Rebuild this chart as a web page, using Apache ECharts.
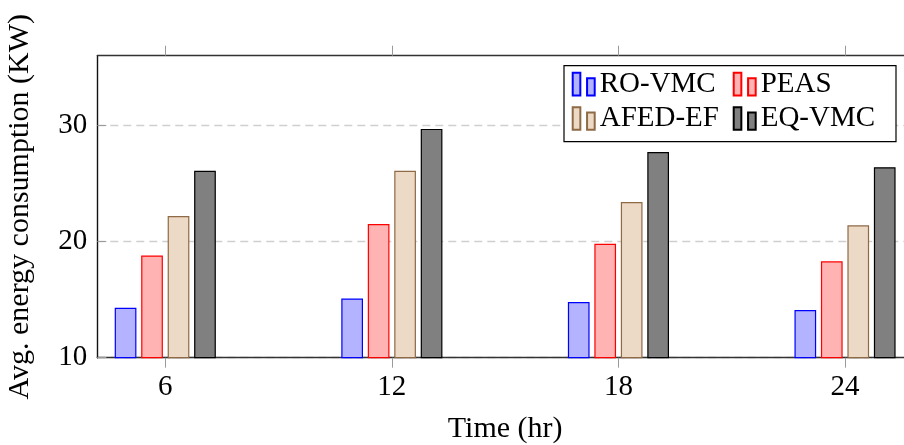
<!DOCTYPE html>
<html>
<head>
<meta charset="utf-8">
<script src="https://cdn.jsdelivr.net/npm/echarts@6/dist/echarts.min.js"></script>
<style>
html,body{margin:0;padding:0;background:#fff;}
#chart{width:904px;height:445px;}
</style>
</head>
<body>
<div id="chart"></div>
<script>
// ---- data ----
const categories = [6, 12, 18, 24];
const tickLabels = ['6', '12', '18', '24'];
const yTicks = [10, 20, 30];
const seriesNames = ['RO-VMC', 'PEAS', 'AFED-EF', 'EQ-VMC'];
const roVmc = [14.3, 15.1, 14.8, 14.1];
const peas = [18.8, 21.5, 19.8, 18.3];
const afedEf = [22.2, 26.1, 23.4, 21.4];
const eqVmc = [26.1, 29.7, 27.7, 26.4];
const xTitle = 'Time (hr)';
const yTitle = 'Avg. energy consumption (KW)';

// ---- styling ----
const FONT = 'Liberation Serif';
const FS = 29;
const styles = [
  { fill: '#b3b3ff', stroke: '#0000ff' },
  { fill: '#ffb3b3', stroke: '#ff0000' },
  { fill: '#ecd9c6', stroke: '#8f6a45' },
  { fill: '#808080', stroke: '#000000' }
];
const allValues = [roVmc, peas, afedEf, eqVmc];
const legendIcon = 'path://M0,0h7.6v22.6h-7.6z M14.3,5.3h7.6v17.3h-7.6z';

const chart = echarts.init(document.getElementById('chart'), null, { renderer: 'canvas' });

const series = seriesNames.map((name, i) => ({
  name: name,
  type: 'bar',
  xAxisIndex: 0,
  yAxisIndex: 0,
  barWidth: 21.7,
  barGap: '22%',
  data: categories.map((c, j) => [c, allValues[i][j]]),
  itemStyle: { color: styles[i].fill, borderColor: styles[i].stroke, borderWidth: 1.2 },
  emphasis: { disabled: true },
  animation: false
}));

const tickColor = '#9a9a9a';

const option = {
  animation: false,
  grid: { left: 97.3, right: -9, top: 55.7, bottom: 445 - 357.7, outerBoundsMode: 'none', containLabel: false },
  legend: {
    data: seriesNames.map(n => ({ name: n, icon: legendIcon })),
    orient: 'horizontal',
    left: 564,
    top: 65.7,
    width: 320,
    itemWidth: 22,
    itemHeight: 23,
    itemGap: 5.3,
    padding: [4, 7.6, 8.7, 7.7],
    borderColor: '#000',
    borderWidth: 1.2,
    backgroundColor: '#fff',
    selectedMode: false,
    formatter: name => '{t|' + name + '}',
    textStyle: {
      fontFamily: FONT, fontSize: FS, color: '#000',
      rich: {
        t: { width: 127.7, lineHeight: 29, fontFamily: FONT, fontSize: FS, color: '#000' }
      }
    }
  },
  xAxis: [
    {
      type: 'value', position: 'bottom', min: 4.2, max: 25.8,
      axisLine: { show: true, onZero: false, lineStyle: { color: '#333', width: 1.4 } },
      axisTick: { show: true, inside: false, length: 10, customValues: categories, lineStyle: { color: tickColor, width: 1 } },
      axisLabel: {
        customValues: categories,
        formatter: v => tickLabels[categories.indexOf(v)],
        margin: 15, color: '#000', fontFamily: FONT, fontSize: FS
      },
      splitLine: { show: false },
      name: xTitle, nameLocation: 'middle', nameGap: 56,
      nameTextStyle: { fontFamily: FONT, fontSize: 30, color: '#000' }
    },
    {
      type: 'value', position: 'top', min: 4.2, max: 25.8,
      axisLine: { show: true, onZero: false, lineStyle: { color: '#333', width: 1.4 } },
      axisTick: { show: true, inside: false, length: 10, customValues: categories, lineStyle: { color: tickColor, width: 1 } },
      axisLabel: { show: false },
      splitLine: { show: false }
    }
  ],
  yAxis: [
    {
      type: 'value', position: 'left', min: 10, max: 36, interval: 10,
      axisLine: { show: true, onZero: false, lineStyle: { color: '#111', width: 1.4 } },
      axisTick: { show: true, inside: true, length: 9, customValues: yTicks, lineStyle: { color: tickColor, width: 1 } },
      axisLabel: { customValues: yTicks, margin: 10, color: '#000', fontFamily: FONT, fontSize: FS },
      splitLine: { show: true, lineStyle: { color: '#cfcfcf', width: 1.4, type: [8, 5] } },
      name: yTitle, nameLocation: 'middle', nameGap: 62, nameRotate: 90,
      nameTextStyle: { fontFamily: FONT, fontSize: 30, color: '#000' }
    }
  ],
  series: series
};

chart.setOption(option);
</script>
</body>
</html>
